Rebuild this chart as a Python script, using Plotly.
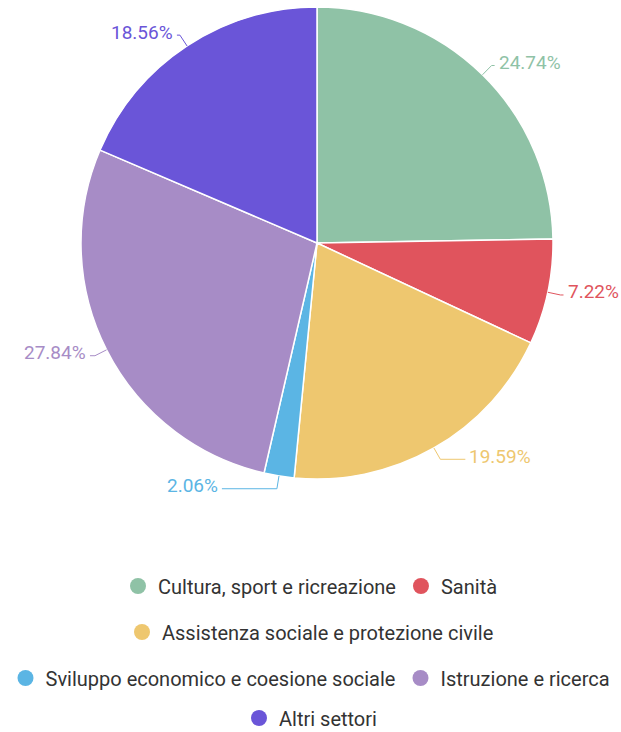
import math
import plotly.graph_objects as go

# Share of projects by sector (%)
sectors = [
    "Cultura, sport e ricreazione",
    "Sanità",
    "Assistenza sociale e protezione civile",
    "Sviluppo economico e coesione sociale",
    "Istruzione e ricerca",
    "Altri settori",
]
shares = [24.74, 7.22, 19.59, 2.06, 27.84, 18.56]
colors = ["#8fc2a6", "#e0545d", "#eec76f", "#5bb5e4", "#a78cc6", "#6a55d8"]

# legend rows (which legend each sector belongs to)
legend_rows = ["legend", "legend", "legend2", "legend3", "legend3", "legend4"]
# extra horizontal run of each leader line (px)
leader_run = [3, 3, 25, 55, 5, 3]

W, H = 621, 732
cx, cy, r = 317, 243, 236
FONT = "Roboto, 'Open Sans', sans-serif"

fig = go.Figure()
fig.add_trace(go.Pie(
    labels=sectors,
    values=shares,
    sort=False,
    direction="clockwise",
    rotation=0,
    marker=dict(colors=colors, line=dict(color="white", width=1.5)),
    textinfo="none",
    hoverinfo="label+percent",
    showlegend=False,
    domain=dict(x=[(cx - r) / W, (cx + r) / W], y=[1 - (cy + r) / H, 1 - (cy - r) / H]),
))

# legend entries with round markers, split over centred rows
for name, col, lg in zip(sectors, colors, legend_rows):
    fig.add_trace(go.Scatter(
        x=[None], y=[None], mode="markers", name=name,
        marker=dict(color=col, size=20, symbol="circle"),
        legend=lg, showlegend=True,
    ))

# outside percentage labels with leader lines
total = sum(shares)
cum = 0.0
shapes, annotations = [], []
L1 = 13
for v, col, run in zip(shares, colors, leader_run):
    theta = 2 * math.pi * (cum + v / 2) / total
    cum += v
    s, c = math.sin(theta), math.cos(theta)
    x0, y0 = cx + r * s, cy - r * c
    x1, y1 = cx + (r + L1) * s, cy - (r + L1) * c
    side = 1 if s >= 0 else -1
    x2, y2 = x1 + side * run, y1
    px = lambda x: x / W
    py = lambda y: 1 - y / H
    shapes.append(dict(
        type="path", xref="paper", yref="paper",
        path=f"M {px(x0)},{py(y0)} L {px(x1)},{py(y1)} L {px(x2)},{py(y2)}",
        line=dict(color=col, width=1),
    ))
    annotations.append(dict(
        text=f"{v:.2f}%", xref="paper", yref="paper",
        x=px(x2 + side * 2), y=py(y2 - 3), showarrow=False,
        xanchor="left" if side > 0 else "right", yanchor="middle",
        font=dict(family=FONT, size=19, color=col),
    ))

legend_style = dict(
    orientation="h", x=0.5, xanchor="center", yanchor="middle",
    font=dict(family=FONT, size=20, color="#333333"),
    bgcolor="rgba(0,0,0,0)", itemclick=False, itemdoubleclick=False,
)
row_y = [586, 632, 678, 718]
fig.update_layout(
    width=W, height=H,
    margin=dict(l=0, r=0, t=0, b=0, autoexpand=False),
    paper_bgcolor="white", plot_bgcolor="white",
    xaxis=dict(visible=False), yaxis=dict(visible=False),
    shapes=shapes, annotations=annotations,
    legend=dict(y=1 - row_y[0] / H, **legend_style),
    legend2=dict(y=1 - row_y[1] / H, **legend_style),
    legend3=dict(y=1 - row_y[2] / H, **legend_style),
    legend4=dict(y=1 - row_y[3] / H, **legend_style),
    font=dict(family=FONT),
)

fig.write_html("out.html")
